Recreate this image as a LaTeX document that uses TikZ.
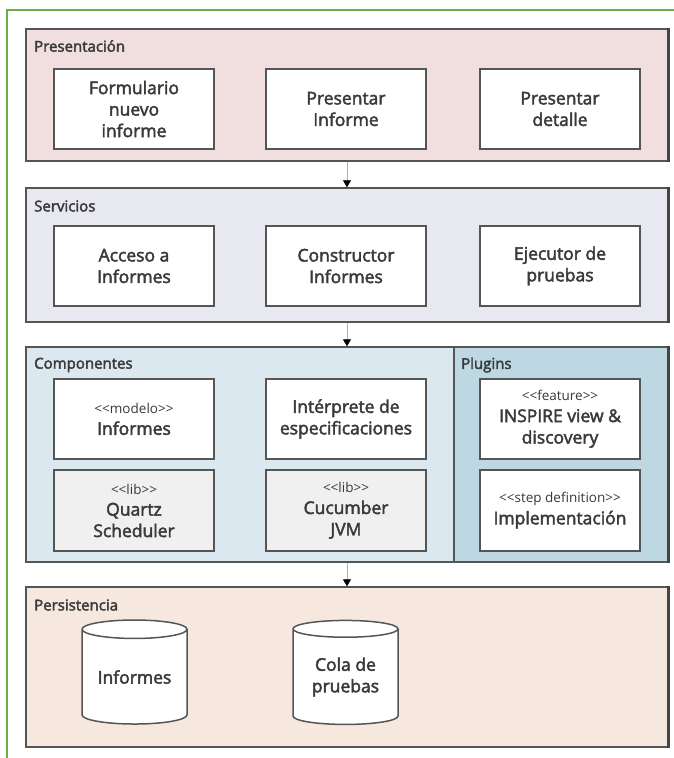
\documentclass[tikz,border=0pt]{standalone}
\usepackage{fontspec}
\setmainfont{Open Sans}
\newfontfamily\medfont{Open Sans}[FakeBold=2.5]
\usetikzlibrary{shapes.geometric,arrows.meta}
\definecolor{frameg}{HTML}{6AAE45}
\definecolor{presf}{HTML}{F1DEDF}
\definecolor{servf}{HTML}{E8E8F0}
\definecolor{compf}{HTML}{DCE8EF}
\definecolor{plugf}{HTML}{BDD7E3}
\definecolor{persf}{HTML}{F6E8DE}
\definecolor{libf}{HTML}{F0F0F0}
\definecolor{edgec}{HTML}{555555}
\definecolor{txt}{HTML}{3A3A3A}
\newcommand\stt[1]{{\normalfont\fontsize{13.5}{15}\selectfont #1}}
\begin{document}
\begin{tikzpicture}[x=1pt,y=-1pt,
 layer/.style={draw=edgec, line width=1.4pt, rectangle, inner sep=0pt},
 comp/.style={draw=edgec, line width=1.5pt, fill=white, minimum width=160pt, minimum height=80pt, align=center, text=txt, font=\medfont\fontsize{17.5}{21.5}\selectfont, inner sep=0pt},
 lib/.style={comp, fill=libf},
 lbl/.style={anchor=west, text=txt, font=\medfont\fontsize{15}{17}\selectfont, inner sep=0pt},
 flow/.style={draw=gray!60, line width=0.8pt, -{Triangle[width=8pt,length=7pt,color=black]}},
 db/.style={cylinder, shape border rotate=90, aspect=0.25, draw=edgec, line width=1.5pt, fill=white, minimum width=105pt, minimum height=104pt, align=center, text=txt, font=\medfont\fontsize{17.5}{21.5}\selectfont, inner sep=0pt},
 shadowedge/.style={draw=edgec!80!black, line width=3pt}
]
\useasboundingbox (0,0) rectangle (674,758);
\fill[white] (0,0) rectangle (674,758);
% green frame
\coordinate (g1) at (7,758);
\coordinate (g2) at (7,10);
\coordinate (g3) at (674,10);
\draw[frameg, line width=1.2pt] (g1) -- (g2) -- (g3);

% layers
\node[layer, fill=presf, minimum width=642pt, minimum height=132pt] (pres) at (347,95) {};
\node[layer, fill=servf, minimum width=642pt, minimum height=134pt] (serv) at (347,255) {};
\node[layer, fill=compf, minimum width=428pt, minimum height=215pt] (compo) at (240,454.5) {};
\node[layer, fill=plugf, minimum width=214pt, minimum height=215pt] (plug) at (561,454.5) {};
\node[layer, fill=persf, minimum width=642pt, minimum height=160pt] (pers) at (347,667) {};
\draw[shadowedge] (pres.north east) -- (pres.south east);
\draw[shadowedge] (serv.north east) -- (serv.south east);
\draw[shadowedge] (plug.north east) -- (plug.south east);
\draw[shadowedge] (pers.north east) -- (pers.south east);

% layer labels
\node[lbl] (lpres) at (34,46) {Presentación};
\node[lbl] (lserv) at (34,206) {Servicios};
\node[lbl] (lcomp) at (34,365) {Componentes};
\node[lbl] (lplug) at (461,365) {Plugins};
\node[lbl] (lpers) at (34,605) {Persistencia};

% Presentación
\node[comp] (p1) at (134,109) {Formulario\\nuevo\\informe};
\node[comp] (p2) at (346,109) {Presentar\\Informe};
\node[comp] (p3) at (560,109) {Presentar\\detalle};

% Servicios
\node[comp] (s1) at (134,266) {Acceso a\\Informes};
\node[comp] (s2) at (346,266) {Constructor\\Informes};
\node[comp] (s3) at (560,266) {Ejecutor de\\pruebas};

% Componentes
\node[comp] (c1) at (134,419) {\stt{<{}<modelo>{}>}\\Informes};
\node[comp] (c2) at (346,419) {Intérprete de\\especificaciones};
\node[lib, minimum height=81pt] (c3) at (134,510.5) {\stt{<{}<lib>{}>}\\Quartz\\Scheduler};
\node[lib, minimum height=81pt] (c4) at (346,510.5) {\stt{<{}<lib>{}>}\\Cucumber\\JVM};

% Plugins
\node[comp] (u1) at (560,419) {\stt{<{}<feature>{}>}\\INSPIRE view \&\\discovery};
\node[comp, minimum height=81pt] (u2) at (560,510.5) {\stt{<{}<step definition>{}>}\\Implementación};

% Persistencia
\node[db] (d1) at (134.5,677) {Informes};
\node[db] (d2) at (345.5,677) {Cola de\\pruebas};

% flows
\draw[flow] (pres.south) -- (serv.north);
\draw[flow] (serv.south) -- (serv.south |- compo.north);
\draw[flow] (compo.south -| pers.north) -- (pers.north);
\end{tikzpicture}
\end{document}
